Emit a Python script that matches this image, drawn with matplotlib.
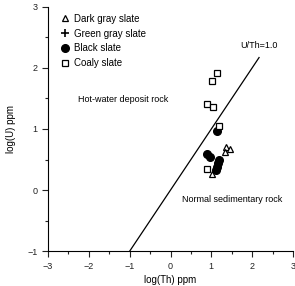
import numpy as np
import matplotlib.pyplot as plt

plt.rcParams['font.family'] = ['Liberation Sans', 'DejaVu Sans']

# log(Th), log(U) por tipo de ardósia
dark_th = [1.36, 1.46, 1.33, 1.02]
dark_u = [0.70, 0.67, 0.62, 0.26]

green_th = []
green_u = []

black_th = [1.14, 0.89, 0.97, 1.19, 1.16, 1.14, 1.11]
black_u = [0.97, 0.59, 0.54, 0.49, 0.44, 0.38, 0.33]

coaly_th = [1.14, 1.02, 0.89, 1.04, 1.19, 0.89]
coaly_u = [1.92, 1.79, 1.41, 1.36, 1.05, 0.34]

# linha U/Th = 1.0
linha_x = [-1, 2.17]
linha_y = [-1, 2.17]

fig = plt.figure(figsize=(2.95, 2.86), dpi=100)
ax = fig.add_axes([0.163, 0.122, 0.83, 0.854])

ax.plot(dark_th, dark_u, '^', mfc='white', mec='black', ms=5, mew=0.9, ls='none', label='Dark gray slate')
ax.plot(green_th, green_u, '+', color='black', ms=6, mew=1.2, ls='none', label='Green gray slate')
ax.plot(black_th, black_u, 'o', color='black', ms=5.5, ls='none', label='Black slate')
ax.plot(coaly_th, coaly_u, 's', mfc='white', mec='black', ms=5, mew=0.9, ls='none', label='Coaly slate')

ax.plot(linha_x, linha_y, color='black', lw=0.9)

ax.text(2.17, 2.36, 'U/Th=1.0', fontsize=6.5, ha='center', va='center')
ax.text(-1.15, 1.49, 'Hot-water deposit rock', fontsize=6.5, ha='center', va='center')
ax.text(1.5, -0.15, 'Normal sedimentary rock', fontsize=6.5, ha='center', va='center')

ax.set_xlim(-3, 3)
ax.set_ylim(-1, 3)
ax.set_xticks(np.arange(-3, 4, 1))
ax.set_yticks(np.arange(-1, 4, 1))
ax.set_xticks(np.arange(-2.5, 3, 1), minor=True)
ax.set_yticks(np.arange(-0.5, 3, 1), minor=True)
ax.tick_params(which='both', direction='out', labelsize=6.5, colors='#222222')
ax.tick_params(which='major', length=4, width=0.8)
ax.tick_params(which='minor', length=2.5, width=0.8)
ax.tick_params(axis='x', pad=4)
ax.spines['top'].set_visible(False)
ax.spines['right'].set_visible(False)

ax.set_xlabel('log(Th) ppm', fontsize=7, labelpad=3)
ax.set_ylabel('log(U) ppm', fontsize=7, labelpad=8)

ax.legend(loc='upper left', frameon=False, fontsize=7, handletextpad=0.5,
          handlelength=1.0, borderpad=0.2, labelspacing=0.5,
          bbox_to_anchor=(0.02, 1.0))

fig.savefig('out.png', dpi=100)
